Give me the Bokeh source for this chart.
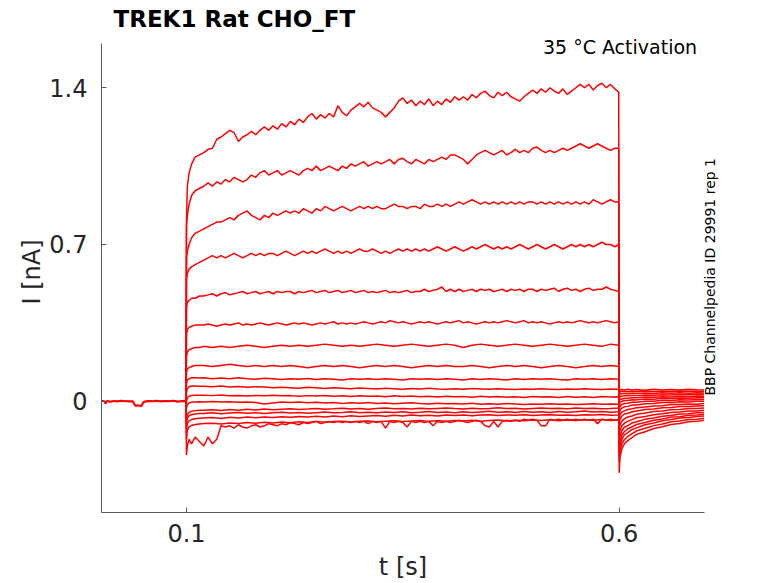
import math
from bokeh.plotting import figure
from bokeh.models import Range1d, Label, FixedTicker, LinearAxis
from bokeh.embed import file_html
from bokeh.resources import INLINE

# ---------------- data ----------------
# holding period before the step (all sweeps overlap here)
t_pre = [0.002, 0.005, 0.0065, 0.008, 0.012, 0.016, 0.02, 0.025, 0.03, 0.035,
         0.038, 0.04, 0.042, 0.0425, 0.045, 0.048, 0.05, 0.052, 0.055, 0.06,
         0.065, 0.07, 0.075, 0.08, 0.085, 0.09, 0.095, 0.0995]
i_pre = [0.002, 0.0, -0.01, 0.001, -0.002, 0.001, -0.001, 0.002, 0.0, -0.001,
         0.0, -0.015, -0.022, -0.018, -0.02, -0.021, -0.006, -0.002, 0.001, 0.0,
         0.002, -0.001, 0.001, 0.0, 0.002, -0.002, 0.001, 0.0]

# step sample times (fine and coarse), tail sample times
t_fine = [0.1, 0.101, 0.103, 0.106, 0.11, 0.115,
          0.12, 0.125, 0.13, 0.135, 0.14, 0.145, 0.15, 0.155, 0.16, 0.165,
          0.17, 0.175, 0.18, 0.185, 0.19, 0.195, 0.2, 0.205, 0.21, 0.215,
          0.22, 0.225, 0.23, 0.235, 0.24, 0.245, 0.25, 0.255, 0.26, 0.265,
          0.27, 0.275, 0.28, 0.285, 0.29, 0.295, 0.3, 0.305, 0.31, 0.315,
          0.32, 0.325, 0.33, 0.335, 0.34, 0.345, 0.35, 0.355, 0.36, 0.365,
          0.37, 0.375, 0.38, 0.385, 0.39, 0.395, 0.4, 0.405, 0.41, 0.415,
          0.42, 0.425, 0.43, 0.435, 0.44, 0.445, 0.45, 0.455, 0.46, 0.465,
          0.47, 0.475, 0.48, 0.485, 0.49, 0.495, 0.5, 0.505, 0.51, 0.515,
          0.52, 0.525, 0.53, 0.535, 0.54, 0.545, 0.55, 0.555, 0.56, 0.565,
          0.57, 0.575, 0.58, 0.585, 0.59, 0.595, 0.5995]
t_coarse = [0.1, 0.101, 0.103, 0.106, 0.11, 0.115,
            0.12, 0.13, 0.14, 0.15, 0.16, 0.17, 0.18, 0.19, 0.2, 0.21,
            0.22, 0.23, 0.24, 0.25, 0.26, 0.27, 0.28, 0.29, 0.3, 0.31,
            0.32, 0.33, 0.34, 0.35, 0.36, 0.37, 0.38, 0.39, 0.4, 0.41,
            0.42, 0.43, 0.44, 0.45, 0.46, 0.47, 0.48, 0.49, 0.5, 0.51,
            0.52, 0.53, 0.54, 0.55, 0.56, 0.57, 0.58, 0.59, 0.5995]
t_tail = [0.6, 0.601, 0.603, 0.606, 0.61, 0.615, 0.62, 0.63, 0.64, 0.65,
          0.66, 0.67, 0.68, 0.69, 0.698]

# sweep currents during the step [nA]
step_01 = [0.80, 0.96, 1.02, 1.06, 1.09, 1.10,
           1.11, 1.125, 1.13, 1.17, 1.18, 1.195, 1.21, 1.20, 1.16, 1.18,
           1.19, 1.205, 1.19, 1.21, 1.225, 1.21, 1.23, 1.215, 1.24, 1.225,
           1.25, 1.235, 1.26, 1.245, 1.27, 1.285, 1.26, 1.28, 1.265, 1.285,
           1.27, 1.32, 1.29, 1.275, 1.30, 1.315, 1.33, 1.315, 1.335, 1.31,
           1.30, 1.29, 1.27, 1.29, 1.31, 1.34, 1.355, 1.33, 1.345, 1.32,
           1.34, 1.325, 1.35, 1.32, 1.34, 1.325, 1.35, 1.335, 1.36, 1.345,
           1.36, 1.345, 1.37, 1.355, 1.375, 1.385, 1.365, 1.355, 1.38, 1.365,
           1.38, 1.36, 1.35, 1.34, 1.36, 1.375, 1.39, 1.375, 1.395, 1.38,
           1.40, 1.385, 1.375, 1.395, 1.37, 1.385, 1.40, 1.415, 1.40, 1.415,
           1.39, 1.41, 1.42, 1.40, 1.415, 1.395, 1.38]
step_02 = [0.78, 0.83, 0.88, 0.92, 0.94, 0.95,
           0.96, 0.975, 0.96, 0.98, 0.97, 0.99, 0.98, 1.00, 0.99, 0.98,
           0.99, 1.01, 1.00, 1.02, 1.03, 1.01, 1.02, 1.03, 1.01, 1.02,
           1.03, 1.02, 1.01, 1.03, 1.04, 1.03, 1.05, 1.03, 1.04, 1.05,
           1.04, 1.03, 1.05, 1.04, 1.06, 1.05, 1.06, 1.07, 1.05, 1.06,
           1.07, 1.06, 1.07, 1.08, 1.06, 1.08, 1.085, 1.07, 1.06, 1.08,
           1.07, 1.06, 1.08, 1.07, 1.08, 1.09, 1.08, 1.10, 1.10, 1.09,
           1.08, 1.06, 1.08, 1.10, 1.11, 1.12, 1.11, 1.10, 1.11, 1.12,
           1.10, 1.11, 1.125, 1.11, 1.12, 1.11, 1.13, 1.135, 1.12, 1.11,
           1.12, 1.11, 1.12, 1.13, 1.12, 1.13, 1.14, 1.15, 1.14, 1.13,
           1.14, 1.15, 1.14, 1.13, 1.12, 1.13, 1.13]
step_03 = [0.64, 0.67, 0.70, 0.73, 0.75, 0.76,
           0.77, 0.78, 0.79, 0.80, 0.80, 0.81, 0.82, 0.81, 0.83, 0.84,
           0.85, 0.83, 0.82, 0.81, 0.83, 0.82, 0.84, 0.83, 0.84, 0.85,
           0.84, 0.85, 0.84, 0.86, 0.85, 0.84, 0.86, 0.85, 0.87, 0.86,
           0.85, 0.86, 0.87, 0.86, 0.85, 0.86, 0.87, 0.86, 0.87, 0.86,
           0.87, 0.86, 0.86, 0.87, 0.88, 0.87, 0.87, 0.86, 0.87, 0.87,
           0.86, 0.88, 0.87, 0.87, 0.88, 0.87, 0.88, 0.87, 0.88, 0.89,
           0.88, 0.89, 0.90, 0.89, 0.88, 0.89, 0.88, 0.89, 0.88, 0.89,
           0.88, 0.89, 0.88, 0.89, 0.88, 0.89, 0.89, 0.88, 0.89, 0.88,
           0.89, 0.88, 0.89, 0.88, 0.89, 0.88, 0.89, 0.88, 0.89, 0.88,
           0.90, 0.89, 0.88, 0.89, 0.90, 0.89, 0.89]
step_04 = [0.55, 0.57, 0.59, 0.60, 0.61, 0.62,
           0.63, 0.64, 0.65, 0.64, 0.65, 0.64, 0.65, 0.66, 0.65, 0.64,
           0.65, 0.66, 0.65, 0.66, 0.65, 0.66, 0.66, 0.65, 0.66, 0.67,
           0.66, 0.65, 0.66, 0.67, 0.66, 0.67, 0.66, 0.67, 0.68, 0.67,
           0.66, 0.67, 0.66, 0.67, 0.66, 0.67, 0.68, 0.67, 0.67, 0.68,
           0.67, 0.66, 0.67, 0.66, 0.67, 0.68, 0.67, 0.68, 0.67, 0.68,
           0.67, 0.68, 0.67, 0.68, 0.69, 0.68, 0.67, 0.68, 0.69, 0.68,
           0.67, 0.68, 0.69, 0.68, 0.69, 0.70, 0.69, 0.68, 0.69, 0.68,
           0.69, 0.68, 0.69, 0.70, 0.69, 0.68, 0.69, 0.70, 0.69, 0.68,
           0.69, 0.70, 0.69, 0.68, 0.69, 0.70, 0.69, 0.70, 0.69, 0.70,
           0.69, 0.70, 0.71, 0.70, 0.70, 0.69, 0.70]
step_05 = [0.42, 0.44, 0.45, 0.46, 0.46, 0.47,
           0.47, 0.475, 0.48, 0.47, 0.48, 0.485, 0.475, 0.48, 0.485, 0.49,
           0.48, 0.485, 0.49, 0.48, 0.485, 0.49, 0.48, 0.49, 0.485, 0.49,
           0.49, 0.48, 0.49, 0.485, 0.49, 0.495, 0.485, 0.49, 0.495, 0.485,
           0.49, 0.495, 0.485, 0.49, 0.495, 0.485, 0.49, 0.495, 0.485, 0.49,
           0.485, 0.49, 0.495, 0.485, 0.49, 0.485, 0.49, 0.495, 0.485, 0.49,
           0.49, 0.50, 0.49, 0.495, 0.50, 0.51, 0.49, 0.50, 0.49, 0.50,
           0.49, 0.495, 0.50, 0.49, 0.50, 0.495, 0.50, 0.49, 0.495, 0.50,
           0.49, 0.50, 0.495, 0.50, 0.49, 0.50, 0.50, 0.49, 0.50, 0.495,
           0.50, 0.505, 0.49, 0.50, 0.505, 0.495, 0.50, 0.49, 0.50, 0.505,
           0.495, 0.50, 0.50, 0.51, 0.50, 0.495, 0.49]
step_06 = [0.30, 0.32, 0.33, 0.335, 0.34, 0.34,
           0.34, 0.345, 0.34, 0.335, 0.34, 0.345, 0.34, 0.345, 0.35, 0.34,
           0.345, 0.34, 0.345, 0.35, 0.345, 0.34, 0.345, 0.35, 0.345, 0.34,
           0.345, 0.35, 0.345, 0.35, 0.345, 0.34, 0.345, 0.35, 0.345, 0.35,
           0.355, 0.345, 0.35, 0.345, 0.35, 0.345, 0.35, 0.355, 0.35, 0.345,
           0.35, 0.355, 0.35, 0.36, 0.355, 0.35, 0.355, 0.35, 0.345, 0.35,
           0.355, 0.35, 0.355, 0.35, 0.345, 0.35, 0.355, 0.35, 0.355, 0.36,
           0.35, 0.355, 0.35, 0.345, 0.35, 0.355, 0.35, 0.355, 0.35, 0.355,
           0.36, 0.355, 0.35, 0.355, 0.36, 0.35, 0.355, 0.35, 0.355, 0.35,
           0.345, 0.35, 0.355, 0.35, 0.355, 0.35, 0.355, 0.36, 0.355, 0.35,
           0.355, 0.35, 0.355, 0.36, 0.355, 0.35, 0.355]
step_07 = [0.20, 0.22, 0.23, 0.235, 0.24, 0.24,
           0.245, 0.24, 0.245, 0.24, 0.245, 0.25, 0.245, 0.24, 0.245, 0.25,
           0.245, 0.25, 0.245, 0.25, 0.255, 0.25, 0.245, 0.25, 0.245, 0.25,
           0.255, 0.25, 0.245, 0.25, 0.255, 0.25, 0.245, 0.25, 0.255, 0.25,
           0.24, 0.25, 0.255, 0.25, 0.245, 0.25, 0.255, 0.25, 0.245, 0.25,
           0.255, 0.25, 0.245, 0.25, 0.255, 0.25, 0.245, 0.255, 0.25]
step_08 = [0.13, 0.145, 0.15, 0.155, 0.16, 0.16,
           0.16, 0.155, 0.16, 0.165, 0.16, 0.155, 0.16, 0.155, 0.16, 0.155,
           0.16, 0.155, 0.15, 0.155, 0.16, 0.155, 0.16, 0.155, 0.15, 0.155,
           0.16, 0.155, 0.16, 0.155, 0.15, 0.155, 0.16, 0.155, 0.16, 0.155,
           0.155, 0.16, 0.155, 0.15, 0.155, 0.16, 0.155, 0.16, 0.155, 0.15,
           0.155, 0.16, 0.155, 0.15, 0.155, 0.16, 0.155, 0.16, 0.155]
step_09 = [0.08, 0.095, 0.10, 0.105, 0.105, 0.104,
           0.105, 0.10, 0.104, 0.10, 0.105, 0.10, 0.098, 0.103, 0.10, 0.097,
           0.10, 0.098, 0.102, 0.097, 0.10, 0.098, 0.095, 0.10, 0.098, 0.10,
           0.097, 0.10, 0.098, 0.095, 0.10, 0.098, 0.10, 0.097, 0.10, 0.098,
           0.095, 0.10, 0.097, 0.10, 0.098, 0.095, 0.10, 0.097, 0.10, 0.098,
           0.10, 0.097, 0.095, 0.10, 0.098, 0.10, 0.097, 0.10, 0.098]
step_10 = [0.04, 0.055, 0.065, 0.068, 0.068, 0.067,
           0.067, 0.065, 0.068, 0.064, 0.066, 0.062, 0.065, 0.063, 0.06, 0.062,
           0.06, 0.058, 0.062, 0.06, 0.057, 0.06, 0.058, 0.056, 0.059, 0.057,
           0.055, 0.058, 0.056, 0.054, 0.057, 0.055, 0.058, 0.055, 0.053, 0.056,
           0.054, 0.057, 0.055, 0.053, 0.056, 0.054, 0.052, 0.055, 0.053, 0.056,
           0.054, 0.052, 0.055, 0.053, 0.056, 0.054, 0.052, 0.055, 0.054]
step_11 = [0.0, 0.015, 0.022, 0.026, 0.027, 0.027,
           0.027, 0.025, 0.028, 0.024, 0.026, 0.023, 0.026, 0.024, 0.027, 0.024,
           0.025, 0.022, 0.025, 0.023, 0.026, 0.022, 0.024, 0.021, 0.024, 0.022,
           0.023, 0.02, 0.024, 0.021, 0.023, 0.02, 0.022, 0.019, 0.022, 0.02,
           0.021, 0.018, 0.022, 0.019, 0.021, 0.018, 0.02, 0.017, 0.021, 0.019,
           0.02, 0.017, 0.021, 0.018, 0.02, 0.017, 0.021, 0.019, 0.02]
step_12 = [-0.03, -0.015, -0.008, -0.004, -0.003, -0.002,
           -0.003, -0.001, -0.004, -0.002, -0.005, -0.003, -0.006, -0.012, -0.008, -0.004,
           -0.006, -0.003, -0.007, -0.005, -0.008, -0.006, -0.01, -0.007, -0.009, -0.006,
           -0.01, -0.008, -0.011, -0.009, -0.007, -0.01, -0.012, -0.009, -0.011, -0.01,
           -0.012, -0.009, -0.013, -0.011, -0.014, -0.01, -0.012, -0.015, -0.012, -0.013,
           -0.011, -0.014, -0.012, -0.015, -0.013, -0.011, -0.014, -0.012, -0.013]
step_13 = [-0.08, -0.06, -0.05, -0.045, -0.042, -0.04,
           -0.04, -0.038, -0.041, -0.037, -0.04, -0.036, -0.039, -0.035, -0.038, -0.036,
           -0.034, -0.037, -0.035, -0.032, -0.036, -0.034, -0.031, -0.035, -0.033, -0.036,
           -0.033, -0.03, -0.034, -0.032, -0.035, -0.031, -0.034, -0.032, -0.03, -0.033,
           -0.035, -0.031, -0.034, -0.032, -0.029, -0.033, -0.031, -0.035, -0.032, -0.03,
           -0.033, -0.031, -0.034, -0.03, -0.033, -0.031, -0.034, -0.032, -0.03]
step_14 = [-0.1, -0.075, -0.065, -0.06, -0.057, -0.055,
           -0.055, -0.052, -0.056, -0.053, -0.05, -0.054, -0.051, -0.055, -0.052, -0.049,
           -0.053, -0.05, -0.054, -0.051, -0.048, -0.052, -0.05, -0.047, -0.051, -0.049,
           -0.052, -0.048, -0.05, -0.047, -0.051, -0.049, -0.046, -0.05, -0.048, -0.051,
           -0.047, -0.05, -0.048, -0.045, -0.049, -0.047, -0.05, -0.046, -0.049, -0.047,
           -0.05, -0.046, -0.049, -0.047, -0.044, -0.048, -0.046, -0.049, -0.047]
step_15 = [-0.13, -0.1, -0.088, -0.082, -0.078, -0.076,
           -0.075, -0.073, -0.077, -0.072, -0.075, -0.071, -0.074, -0.07, -0.073, -0.069,
           -0.072, -0.068, -0.071, -0.067, -0.07, -0.066, -0.069, -0.065, -0.068, -0.066,
           -0.064, -0.067, -0.063, -0.066, -0.062, -0.065, -0.063, -0.066, -0.062, -0.064,
           -0.061, -0.065, -0.062, -0.06, -0.064, -0.061, -0.063, -0.06, -0.064, -0.062,
           -0.06, -0.063, -0.061, -0.064, -0.06, -0.062, -0.059, -0.063, -0.061]
step_16 = [-0.17, -0.13, -0.115, -0.108, -0.104, -0.102,
           -0.1, -0.098, -0.102, -0.097, -0.1, -0.095, -0.098, -0.094, -0.097, -0.093,
           -0.096, -0.092, -0.095, -0.09, -0.094, -0.091, -0.089, -0.093, -0.09, -0.088,
           -0.092, -0.089, -0.087, -0.091, -0.088, -0.086, -0.09, -0.087, -0.089, -0.086,
           -0.088, -0.085, -0.089, -0.086, -0.084, -0.088, -0.085, -0.087, -0.084, -0.086,
           -0.083, -0.087, -0.084, -0.086, -0.083, -0.085, -0.082, -0.086, -0.084]
step_17 = [-0.24, -0.20, -0.17, -0.19, -0.16, -0.18,
           -0.20, -0.16, -0.19, -0.17, -0.11, -0.115, -0.11, -0.12, -0.105, -0.115,
           -0.12, -0.11, -0.105, -0.115, -0.11, -0.10, -0.105, -0.11, -0.10, -0.105,
           -0.095, -0.10, -0.105, -0.095, -0.10, -0.095, -0.09, -0.10, -0.095, -0.09,
           -0.095, -0.09, -0.095, -0.09, -0.095, -0.09, -0.095, -0.09, -0.10, -0.09,
           -0.095, -0.09, -0.12, -0.09, -0.095, -0.09, -0.095, -0.115, -0.09, -0.095,
           -0.09, -0.095, -0.09, -0.11, -0.09, -0.095, -0.09, -0.095, -0.09, -0.085,
           -0.09, -0.095, -0.09, -0.085, -0.09, -0.11, -0.115, -0.09, -0.115, -0.09,
           -0.085, -0.09, -0.085, -0.09, -0.08, -0.085, -0.08, -0.085, -0.11, -0.11,
           -0.08, -0.085, -0.08, -0.085, -0.08, -0.085, -0.08, -0.085, -0.08, -0.085,
           -0.08, -0.10, -0.08, -0.085, -0.08, -0.085, -0.08]

# tail currents after the step [nA]
tail_01 = [-0.32, -0.25, -0.214, -0.19, -0.176, -0.162, -0.148, -0.136, -0.122, -0.114, -0.104, -0.099, -0.092, -0.09, -0.085]
tail_02 = [-0.27, -0.225, -0.192, -0.172, -0.157, -0.145, -0.133, -0.121, -0.109, -0.102, -0.092, -0.088, -0.082, -0.08, -0.076]
tail_03 = [-0.24, -0.20, -0.17, -0.15, -0.14, -0.126, -0.119, -0.105, -0.097, -0.087, -0.082, -0.075, -0.073, -0.068, -0.066]
tail_04 = [-0.21, -0.178, -0.152, -0.136, -0.123, -0.114, -0.104, -0.095, -0.085, -0.079, -0.071, -0.069, -0.063, -0.062, -0.058]
tail_05 = [-0.18, -0.155, -0.132, -0.116, -0.109, -0.097, -0.092, -0.081, -0.075, -0.067, -0.064, -0.057, -0.056, -0.052, -0.05]
tail_06 = [-0.15, -0.13, -0.11, -0.099, -0.089, -0.082, -0.074, -0.068, -0.06, -0.056, -0.05, -0.048, -0.044, -0.044, -0.04]
tail_07 = [-0.12, -0.105, -0.089, -0.079, -0.07, -0.066, -0.058, -0.053, -0.046, -0.044, -0.038, -0.037, -0.033, -0.033, -0.03]
tail_08 = [-0.10, -0.08, -0.067, -0.057, -0.054, -0.047, -0.044, -0.037, -0.035, -0.029, -0.028, -0.024, -0.024, -0.021, -0.02]
tail_09 = [-0.08, -0.06, -0.049, -0.043, -0.037, -0.034, -0.029, -0.026, -0.021, -0.02, -0.015, -0.015, -0.012, -0.013, -0.01]
tail_10 = [-0.06, -0.04, -0.031, -0.025, -0.023, -0.017, -0.017, -0.011, -0.01, -0.006, -0.006, -0.002, -0.003, 0.0, 0.0]
tail_11 = [-0.04, -0.022, -0.015, -0.01, -0.009, -0.005, -0.005, 0.0, 0.0, 0.004, 0.003, 0.007, 0.006, 0.008, 0.008]
tail_12 = [-0.02, -0.005, -0.001, 0.003, 0.003, 0.007, 0.006, 0.01, 0.009, 0.013, 0.012, 0.014, 0.013, 0.015, 0.015]
tail_13 = [0.0, 0.007, 0.01, 0.013, 0.013, 0.016, 0.015, 0.019, 0.018, 0.02, 0.019, 0.022, 0.02, 0.023, 0.022]
tail_14 = [0.01, 0.02, 0.022, 0.025, 0.024, 0.026, 0.025, 0.028, 0.027, 0.029, 0.028, 0.03, 0.029, 0.031, 0.03]
tail_15 = [0.02, 0.032, 0.033, 0.035, 0.033, 0.036, 0.034, 0.037, 0.035, 0.038, 0.036, 0.038, 0.036, 0.038, 0.037]
tail_16 = [0.03, 0.042, 0.043, 0.045, 0.042, 0.045, 0.043, 0.046, 0.043, 0.045, 0.043, 0.046, 0.044, 0.045, 0.044]
tail_17 = [0.04, 0.05, 0.052, 0.05, 0.053, 0.05, 0.052, 0.049, 0.053, 0.05, 0.052, 0.05, 0.053, 0.051, 0.05]

sweeps = [
    (t_fine, step_01, tail_01), (t_fine, step_02, tail_02), (t_fine, step_03, tail_03),
    (t_fine, step_04, tail_04), (t_fine, step_05, tail_05), (t_fine, step_06, tail_06),
    (t_coarse, step_07, tail_07), (t_coarse, step_08, tail_08), (t_coarse, step_09, tail_09),
    (t_coarse, step_10, tail_10), (t_coarse, step_11, tail_11), (t_coarse, step_12, tail_12),
    (t_coarse, step_13, tail_13), (t_coarse, step_14, tail_14), (t_coarse, step_15, tail_15),
    (t_coarse, step_16, tail_16), (t_fine, step_17, tail_17),
]

y_ticks = [0, 0.7, 1.4]
y_tick_labels = ["0", "0.7", "1.4"]
x_ticks = [0.1, 0.6]
x_tick_labels = ["0.1", "0.6"]
x_limits = (0.0018, 0.6986)
y_limits = (-0.497, 1.596)

TITLE = "TREK1  Rat  CHO_FT"
SUBTITLE = "35 \u00b0C  Activation"
SIDE_NOTE = "BBP Channelpedia ID 29991 rep 1"

# ---------------- figure ----------------
FONT = "DejaVu Sans"
RED = "#ff0000"
W, H = 778, 583
LEFT, RIGHT, TOP, BOTTOM = 101, 74, 31, 71
PX_PER_NA = 223.9
y_end = y_limits[0] + (H - TOP - BOTTOM) / PX_PER_NA

p = figure(width=W, height=H, output_backend="svg", toolbar_location=None,
           x_range=Range1d(*x_limits), y_range=Range1d(y_limits[0], y_end),
           min_border_left=LEFT, min_border_right=RIGHT, min_border_top=TOP,
           min_border_bottom=BOTTOM)
p.background_fill_color = "white"
p.border_fill_color = "white"
p.outline_line_color = None
p.xgrid.visible = False
p.ygrid.visible = False

p.title.text = TITLE
p.title.align = "left"
p.title.offset = 12
p.title.standoff = 0
p.title.text_font = FONT
p.title.text_font_size = "23px"
p.title.text_font_style = "bold"
p.title.text_color = "black"

p.line(t_pre, i_pre, line_color=RED, line_width=2.2)
for ts, st, tl in sweeps:
    n = min(len(ts), len(st))
    xs = [t_pre[-1]] + list(ts[:n]) + list(t_tail)
    ys = [i_pre[-1]] + list(st[:n]) + list(tl[:len(t_tail)])
    p.line(xs, ys, line_color=RED, line_width=1.5)

for ax, ticks, labels, lab, lim in ((p.xaxis[0], x_ticks, x_tick_labels, "t [s]", x_limits),
                                    (p.yaxis[0], y_ticks, y_tick_labels, "I [nA]", y_limits)):
    ax.ticker = FixedTicker(ticks=ticks, minor_ticks=[])
    ax.major_label_overrides = {t: l for t, l in zip(ticks, labels)}
    ax.bounds = lim
    ax.axis_label = lab
    ax.axis_label_text_font = FONT
    ax.axis_label_text_font_size = "24px"
    ax.axis_label_text_font_style = "normal"
    ax.axis_label_text_color = "#262626"
    ax.major_label_text_font = FONT
    ax.major_label_text_font_size = "24px"
    ax.major_label_text_color = "#262626"
    ax.axis_line_color = "#5a5a5a"
    ax.major_tick_line_color = "#5a5a5a"
    ax.major_tick_in = 5
    ax.major_tick_out = 0
    ax.minor_tick_line_color = None

p.xaxis[0].major_label_standoff = 11
p.xaxis[0].axis_label_standoff = 8
p.yaxis[0].major_label_standoff = 14
p.yaxis[0].axis_label_standoff = 0

# side note: a right-hand axis carrying one rotated label (text starts at note_pos)
note_pos = 0.0255
note_axis = LinearAxis(ticker=FixedTicker(ticks=[note_pos], minor_ticks=[]),
                       major_label_overrides={note_pos: SIDE_NOTE},
                       axis_line_color=None, major_tick_line_color=None,
                       minor_tick_line_color=None, major_tick_in=0, major_tick_out=0,
                       major_label_orientation=math.pi / 2, major_label_standoff=6,
                       major_label_text_font=FONT, major_label_text_font_size="14px",
                       major_label_text_color="black")
p.add_layout(note_axis, "right")

p.add_layout(Label(x=0.697, y=1.580, text=SUBTITLE, text_font=FONT,
                   text_font_size="19px", text_color="black",
                   text_align="right", text_baseline="alphabetic"))

open("out.html", "w").write(file_html(p, INLINE))
